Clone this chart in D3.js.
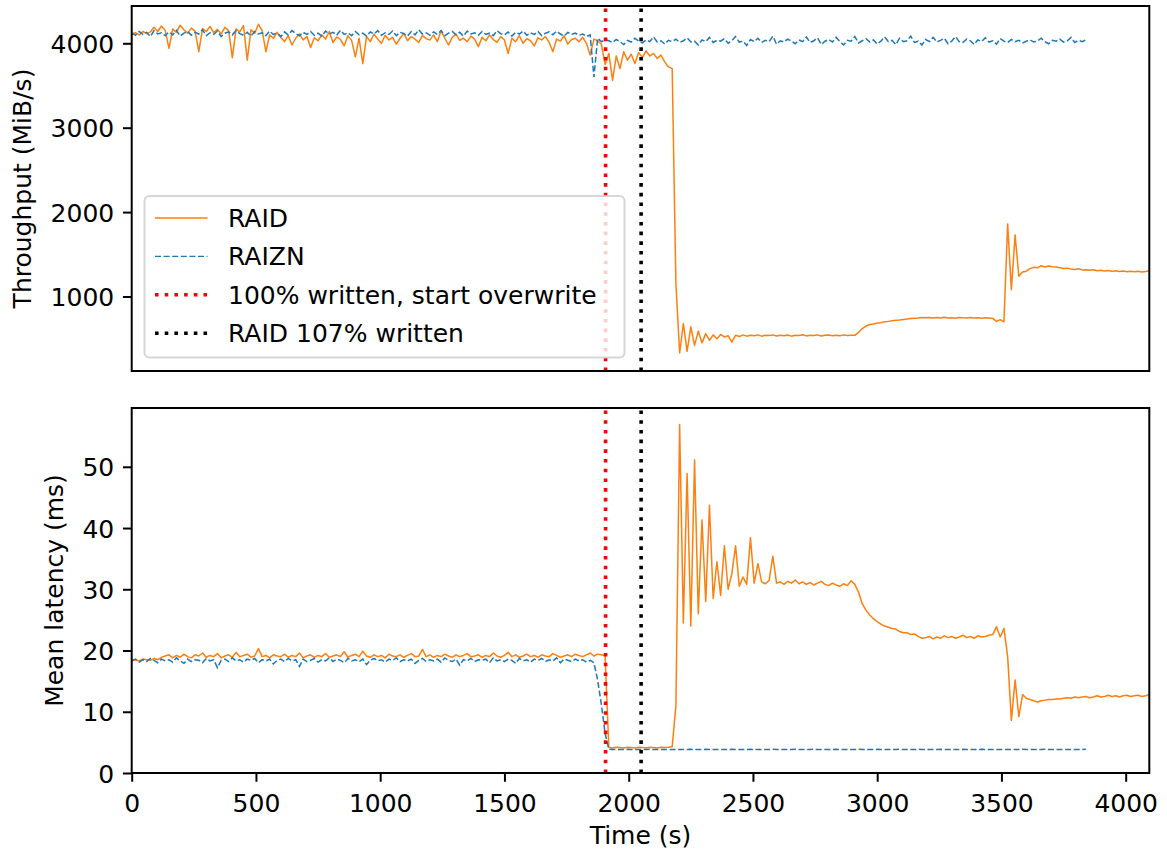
<!DOCTYPE html>
<html>
<head>
<meta charset="utf-8">
<script src="https://cdn.jsdelivr.net/npm/d3@7"></script>
<style>
  html, body { margin: 0; padding: 0; background: #fff; }
  svg text { font-family: "DejaVu Sans", sans-serif; font-size: 25px; fill: #000; }
</style>
</head>
<body>
<svg id="chart" width="1167" height="857"></svg>
<script>
// --- DATA (one sample every STEP seconds) ---
const STEP = 15;

const timeTicks = [0, 500, 1000, 1500, 2000, 2500, 3000, 3500, 4000];
const thrTicks = [1000, 2000, 3000, 4000];
const latTicks = [0, 10, 20, 30, 40, 50];

const tOverwrite = 1907;   // 100% written, start overwrite
const tRaid107 = 2050;     // RAID 107% written

// RAID throughput (MiB/s), t = 0 .. 4095
const raidThr = [
  4110, 4125, 4100, 4140, 4115, 4135, 4190, 4140, 4205, 4150,
  3940, 4170, 4130, 4215, 4160, 4120, 4180, 4145, 3900, 4175,
  4140, 4200, 4125, 4165, 4110, 4190, 4150, 3830, 4170, 4135,
  4210, 3800, 4160, 4120, 4225, 4150, 3900, 4100, 4060, 4130,
  4070, 4020, 4090, 3980, 4060, 4110, 4040, 4080, 3950, 4065,
  4030, 4100, 4050, 4140, 4010, 4075, 4045, 3970, 4090, 4035,
  3840, 4060, 3760, 4080, 4020, 4110, 4050, 4000, 4095, 4040,
  4070, 3990, 4060, 4120, 4030, 4080, 4050, 4010, 4090, 4055,
  4040, 4100, 4020, 4150, 4060, 3980, 4070, 4110, 4035, 4060,
  4020, 4085, 4050, 3960, 4070, 4030, 4100, 4045, 4010, 4080,
  4040, 3880, 4060, 4020, 4090, 4000, 4055, 4030, 3970, 4065,
  4040, 4080, 4010, 3900, 4050, 4025, 4090, 3990, 4045, 4060,
  4020, 4070, 4000, 3860, 4050, 4030, 3990,
  3750, 3880, 3560, 3850, 3700, 3900, 3800, 3870, 3760, 3890,
  3830, 3910, 3850, 3880, 3820, 3860, 3780, 3720, 3700, 1150,
  330, 680, 350, 640, 420, 590, 450, 560, 480, 545,
  500, 550, 520, 535, 460, 540, 525, 545, 530, 540,
  535, 545, 530, 540,
  538, 545, 532, 541, 536, 544, 530, 540, 537, 546,
  533, 541, 538, 545, 531, 540, 543, 536, 541, 534, 545, 538, 542, 540,
  575, 620, 650, 668, 675, 685, 690, 700, 705, 712, 718, 722, 728, 732, 738, 742, 745, 750,
  748, 752, 744, 750, 746, 753, 745, 749, 742, 751, 747, 744, 750, 746, 748, 743, 749, 745,
  740, 705, 725, 700, 1860, 1080, 1730, 1240, 1290, 1300, 1330, 1345, 1340, 1365, 1350, 1362, 1352, 1348, 1340, 1332, 1336,
  1325, 1320, 1328, 1315, 1318, 1310, 1316, 1305, 1312, 1302, 1308, 1300, 1306, 1296, 1302, 1294, 1300, 1292, 1298, 1290, 1296, 1305
];

// RAIZN throughput (MiB/s), t = 0 .. 3840
const raiznThr = [
  4120, 4095, 4140, 4105, 4130, 4080, 4150, 4110, 4125, 4090,
  4135, 4100, 4155, 4085, 4120, 4140, 4095, 4130, 4110, 4160,
  4090, 4125, 4105, 4145, 4080, 4120, 4135, 4100, 4150, 4115,
  4095, 4130, 4085, 4140, 4110, 4125, 4090, 4145, 4105, 4120,
  4080, 4135, 4100, 4150, 4115, 4090, 4130, 4105, 4140, 4095,
  4120, 4085, 4145, 4110, 4130, 4095, 4155, 4105, 4125, 4090,
  4140, 4100, 4120, 4085, 4135, 4110, 4150, 4095, 4125, 4105,
  4145, 4090, 4130, 4115, 4085, 4140, 4100, 4160, 4110, 4125,
  4095, 4135, 4105, 4150, 4090, 4120, 4140, 4100, 4130, 4085,
  4145, 4110, 4125, 4095, 4140, 4105, 4120, 4090, 4150, 4115,
  4100, 4135, 4085, 4130, 4110, 4145, 4095, 4125, 4105, 4140,
  4090, 4120, 4135, 4100, 4145, 4110, 4085, 4130, 4105, 4120,
  4095, 4110, 4080, 4100,
  3600, 4060, 4020, 4040,
  4030, 4010, 4045, 4020, 3985, 4035, 4015, 4060, 4025, 4005,
  4040, 4020, 4075, 4015, 4030, 3990, 4035, 4020, 4050, 4010,
  4030, 4065, 4015, 4025, 3980, 4040, 4020, 4070, 4010, 4035,
  4025, 4055, 4000, 4030, 4080, 4015, 4025, 3975, 4045, 4020,
  4060, 4010, 4035, 4020, 4085, 3990, 4030, 4015, 4050, 4025,
  3995, 4040, 4020, 4075, 4010, 4030, 4065, 3985, 4025, 4045,
  4015, 4070, 4020, 3980, 4035, 4025, 4080, 4005, 4030, 4055,
  4015, 4040, 3990, 4025, 4075, 4020, 4035, 3985, 4060, 4020,
  4030, 4085, 4010, 4025, 3980, 4045, 4020, 4070, 4015, 4035,
  4060, 3995, 4025, 4080, 4020, 4010, 4050, 4030, 3985, 4040,
  4020, 4065, 4015, 4030, 3990, 4055, 4025, 4010, 4045, 4020,
  4035, 4005, 4025, 4040, 4015, 4030, 4060, 4020, 3995, 4035,
  4025, 4050, 4015, 4030, 4070, 4010, 4035, 4020, 4040
];

// RAID mean latency (ms), t = 0 .. 4095
const raidLat = [
  18.4, 18.5, 18.3, 18.6, 18.5, 18.4, 18.7, 18.5, 18.9, 19.1,
  19.3, 18.8, 19.2, 18.9, 19.4, 19.0, 18.8, 19.3, 19.1, 19.6,
  18.9, 19.2, 19.0, 19.5, 18.8, 19.1, 19.3, 18.9, 19.7, 19.0,
  19.2, 19.4, 18.9, 19.1, 20.3, 19.0, 19.2, 18.8, 19.3, 19.1,
  19.0, 19.4, 18.9, 19.2, 19.0, 19.6, 18.8, 19.1, 19.3, 18.9,
  19.2, 19.0, 19.5, 18.9, 19.1, 19.3, 19.0, 19.8, 18.9, 19.2,
  19.4, 19.0, 19.9, 19.1, 18.9, 19.3, 19.0, 19.2, 18.8, 19.4,
  19.1, 19.0, 19.3, 18.9, 19.2, 19.5, 19.0, 19.1, 20.2, 19.0,
  19.3, 18.9, 19.2, 19.0, 19.4, 19.1, 18.9, 19.3, 19.0, 19.2,
  19.5, 19.0, 19.1, 19.3, 18.9, 19.2, 19.0, 19.6, 19.1, 18.9,
  19.2, 19.7, 19.0, 19.3, 18.9, 19.1, 19.4, 19.0, 19.2, 18.9,
  19.3, 19.1, 19.0, 19.5, 19.2, 18.9, 19.1, 19.3, 19.0, 19.4,
  19.2, 19.0, 19.3, 19.6, 19.1, 19.4, 19.3,
  19.2,
  4.2, 4.1, 4.2, 4.15, 4.1, 4.2, 4.15, 4.1, 4.2, 4.15, 4.1, 4.2, 4.15, 4.1, 4.2, 4.15, 4.2,
  4.3, 11.0,
  56.9, 24.5, 48.9, 24.0, 51.1, 26.0, 41.3, 28.0, 43.7, 28.5,
  34.5, 29.0, 37.1, 30.0, 32.5, 37.1, 30.5, 32.0, 30.8, 38.4,
  31.0, 34.2, 31.2, 30.9, 31.4, 35.4, 31.0,
  31.2, 30.8, 31.3, 31.0, 31.5, 30.9, 31.2, 30.8, 31.1, 30.7,
  31.0, 31.3, 30.8, 30.6, 31.0, 30.7, 30.5, 30.9, 30.6, 31.4,
  30.8, 29.5, 27.6, 26.6, 25.8, 25.2, 24.7, 24.3, 24.0, 23.8,
  23.6, 23.5, 23.1, 22.9, 22.9, 22.6, 22.7, 22.3, 22.0,
  22.1, 22.3, 21.9, 22.2, 22.0, 22.4, 22.1, 22.3, 22.0, 22.2,
  22.5, 22.1, 22.3, 22.0, 22.4, 22.2, 22.3, 22.5,
  22.6, 23.9, 22.2, 23.6, 19.0, 8.6, 15.2, 9.2, 12.8, 12.2,
  12.0, 11.8, 11.6, 11.8, 11.9, 12.0, 12.0, 12.1,
  12.1, 12.2, 12.3, 12.2, 12.4, 12.3, 12.4, 12.5, 12.3, 12.4,
  12.6, 12.4, 12.5, 12.7, 12.5, 12.6, 12.4, 12.6, 12.7, 12.5,
  12.6, 12.7, 12.5, 12.6, 12.8
];

// RAIZN mean latency (ms), t = 0 .. 3840
const raiznLat = [
  18.3, 18.6, 18.1, 18.5, 18.2, 18.7, 18.4, 18.0, 18.6, 18.3,
  18.5, 18.1, 18.8, 18.3, 17.9, 18.6, 18.2, 18.5, 18.4, 18.0,
  18.7, 18.3, 18.5, 17.2, 18.4, 18.6, 18.2, 18.8, 18.3, 18.5,
  18.1, 18.6, 18.4, 18.7, 18.0, 18.5, 18.3, 18.6, 17.8, 18.4,
  18.6, 18.2, 18.7, 18.3, 18.5, 17.4, 18.6, 18.2, 18.4, 18.7,
  18.1, 18.5, 18.3, 18.8, 18.2, 18.6, 18.4, 18.0, 18.7, 18.3,
  18.5, 18.2, 18.6, 17.7, 18.4, 18.7, 18.3, 18.5, 18.1, 18.6,
  18.4, 18.8, 18.2, 18.5, 18.3, 18.6, 17.9, 18.4, 18.7, 18.2,
  18.5, 18.3, 18.6, 18.1, 18.8, 18.4, 18.2, 18.6, 17.6, 18.5,
  18.3, 18.7, 18.2, 18.5, 18.4, 18.6, 18.0, 18.8, 18.3, 18.5,
  18.2, 18.6, 18.4, 17.9, 18.7, 18.3, 18.5, 18.1, 18.6, 18.4,
  18.7, 18.2, 18.5, 18.3, 18.8, 18.0, 18.6, 18.4, 18.2, 18.6,
  18.3, 18.5, 18.1, 18.4,
  18.0, 15.2, 11.2, 6.5,
  3.86, 3.85, 3.85, 3.84, 3.85, 3.86, 3.85, 3.85, 3.84, 3.85,
  3.85, 3.86, 3.85, 3.84, 3.85, 3.85, 3.86, 3.85, 3.85, 3.84,
  3.85, 3.85, 3.86, 3.85, 3.84, 3.85, 3.86, 3.85, 3.85, 3.85,
  3.84, 3.85, 3.85, 3.86, 3.85, 3.85, 3.84, 3.85, 3.86, 3.85,
  3.85, 3.84, 3.85, 3.85, 3.86, 3.85, 3.85, 3.84, 3.85, 3.85,
  3.86, 3.85, 3.84, 3.85, 3.85, 3.86, 3.85, 3.85, 3.84, 3.85,
  3.85, 3.86, 3.85, 3.85, 3.84, 3.85, 3.85, 3.86, 3.85, 3.85,
  3.84, 3.85, 3.86, 3.85, 3.85, 3.85, 3.84, 3.85, 3.86, 3.85,
  3.85, 3.84, 3.85, 3.86, 3.85, 3.85, 3.85, 3.84, 3.85, 3.86,
  3.85, 3.85, 3.84, 3.85, 3.85, 3.86, 3.85, 3.84, 3.85, 3.85,
  3.86, 3.85, 3.85, 3.84, 3.85, 3.85, 3.86, 3.85, 3.85, 3.84,
  3.85, 3.86, 3.85, 3.85, 3.84, 3.85, 3.85, 3.86, 3.85, 3.85,
  3.84, 3.85, 3.86, 3.85, 3.85, 3.84, 3.85, 3.85, 3.86
];

// --- STYLE ---
const ORANGE = "#ff7f0e";
const BLUE = "#1f77b4";
const TICK = 8.75;

const svg = d3.select("#chart");
const x = d3.scaleLinear().domain([0, 4095]).range([131.7, 1149.3]);
const toPts = arr => arr.map((v, i) => [i * STEP, v]);

const panels = [
  { id: "thr", y: d3.scaleLinear().domain([117, 4442]).range([371, 6]),
    ticks: thrTicks, label: "Throughput (MiB/s)", labelX: 30.5,
    raid: raidThr, raizn: raiznThr, xAxis: false, legend: true },
  { id: "lat", y: d3.scaleLinear().domain([0, 59.6]).range([773, 408]),
    ticks: latTicks, label: "Mean latency (ms)", labelX: 62.5,
    raid: raidLat, raizn: raiznLat, xAxis: true, legend: false }
];

const defs = svg.append("defs");

panels.forEach(p => {
  const [yb, yt] = p.y.range();
  const [xl, xr] = x.range();

  defs.append("clipPath").attr("id", "clip-" + p.id)
    .append("rect").attr("x", xl).attr("y", yt).attr("width", xr - xl).attr("height", yb - yt);

  const g = svg.append("g").attr("clip-path", `url(#clip-${p.id})`);
  const line = d3.line().x(d => x(d[0])).y(d => p.y(d[1]));

  g.append("path").datum(toPts(p.raid))
    .attr("d", line).attr("fill", "none")
    .attr("stroke", ORANGE).attr("stroke-width", 1.5).attr("stroke-linejoin", "round");

  g.append("path").datum(toPts(p.raizn))
    .attr("d", line).attr("fill", "none")
    .attr("stroke", BLUE).attr("stroke-width", 1.5).attr("stroke-dasharray", "6,2.6");

  [[tOverwrite, "#ff0000"], [tRaid107, "#000000"]].forEach(([t, c]) => {
    g.append("line")
      .attr("x1", x(t)).attr("x2", x(t)).attr("y1", yb).attr("y2", yt)
      .attr("stroke", c).attr("stroke-width", 3.6).attr("stroke-dasharray", "3.6,6.1");
  });

  // y axis
  const ya = svg.append("g").attr("transform", `translate(${xl},0)`)
    .call(d3.axisLeft(p.y).tickValues(p.ticks).tickSize(TICK).tickPadding(TICK).tickFormat(d3.format("d")));
  ya.select(".domain").remove();
  ya.selectAll(".tick line").attr("stroke", "#000").attr("stroke-width", 2);
  ya.selectAll(".tick text").attr("dy", "0.36em");

  if (p.xAxis) {
    const xa = svg.append("g").attr("transform", `translate(0,${yb})`)
      .call(d3.axisBottom(x).tickValues(timeTicks).tickSize(TICK).tickPadding(TICK).tickFormat(d3.format("d")));
    xa.select(".domain").remove();
    xa.selectAll(".tick line").attr("stroke", "#000").attr("stroke-width", 2);
    xa.selectAll(".tick text").attr("dy", "0.84em");
    svg.append("text").attr("x", (xl + xr) / 2).attr("y", 844)
      .attr("text-anchor", "middle").text("Time (s)");
  }

  svg.append("text")
    .attr("transform", `translate(${p.labelX},${(yb + yt) / 2}) rotate(-90)`)
    .attr("text-anchor", "middle").text(p.label);

  // frame
  svg.append("rect").attr("x", xl).attr("y", yt).attr("width", xr - xl).attr("height", yb - yt)
    .attr("fill", "none").attr("stroke", "#000").attr("stroke-width", 2);

  if (p.legend) {
    const items = [
      { label: "RAID", color: ORANGE, w: 1.3, dash: null },
      { label: "RAIZN", color: BLUE, w: 1.3, dash: "6,2.6" },
      { label: "100% written, start overwrite", color: "#ff0000", w: 3.6, dash: "3.6,6.1" },
      { label: "RAID 107% written", color: "#000000", w: 3.6, dash: "3.6,6.1" }
    ];
    const lg = svg.append("g");
    lg.append("rect").attr("x", 144.5).attr("y", 196).attr("width", 480).attr("height", 161.5)
      .attr("rx", 5).attr("fill", "rgba(255,255,255,0.8)")
      .attr("stroke", "rgba(204,204,204,0.8)").attr("stroke-width", 2);
    items.forEach((it, i) => {
      const cy = 218 + i * 38.4;
      lg.append("line").attr("x1", 155).attr("x2", 207.5).attr("y1", cy).attr("y2", cy)
        .attr("stroke", it.color).attr("stroke-width", it.w)
        .attr("stroke-dasharray", it.dash);
      lg.append("text").attr("x", 228).attr("y", cy + 9).text(it.label);
    });
  }
});
</script>
</body>
</html>
